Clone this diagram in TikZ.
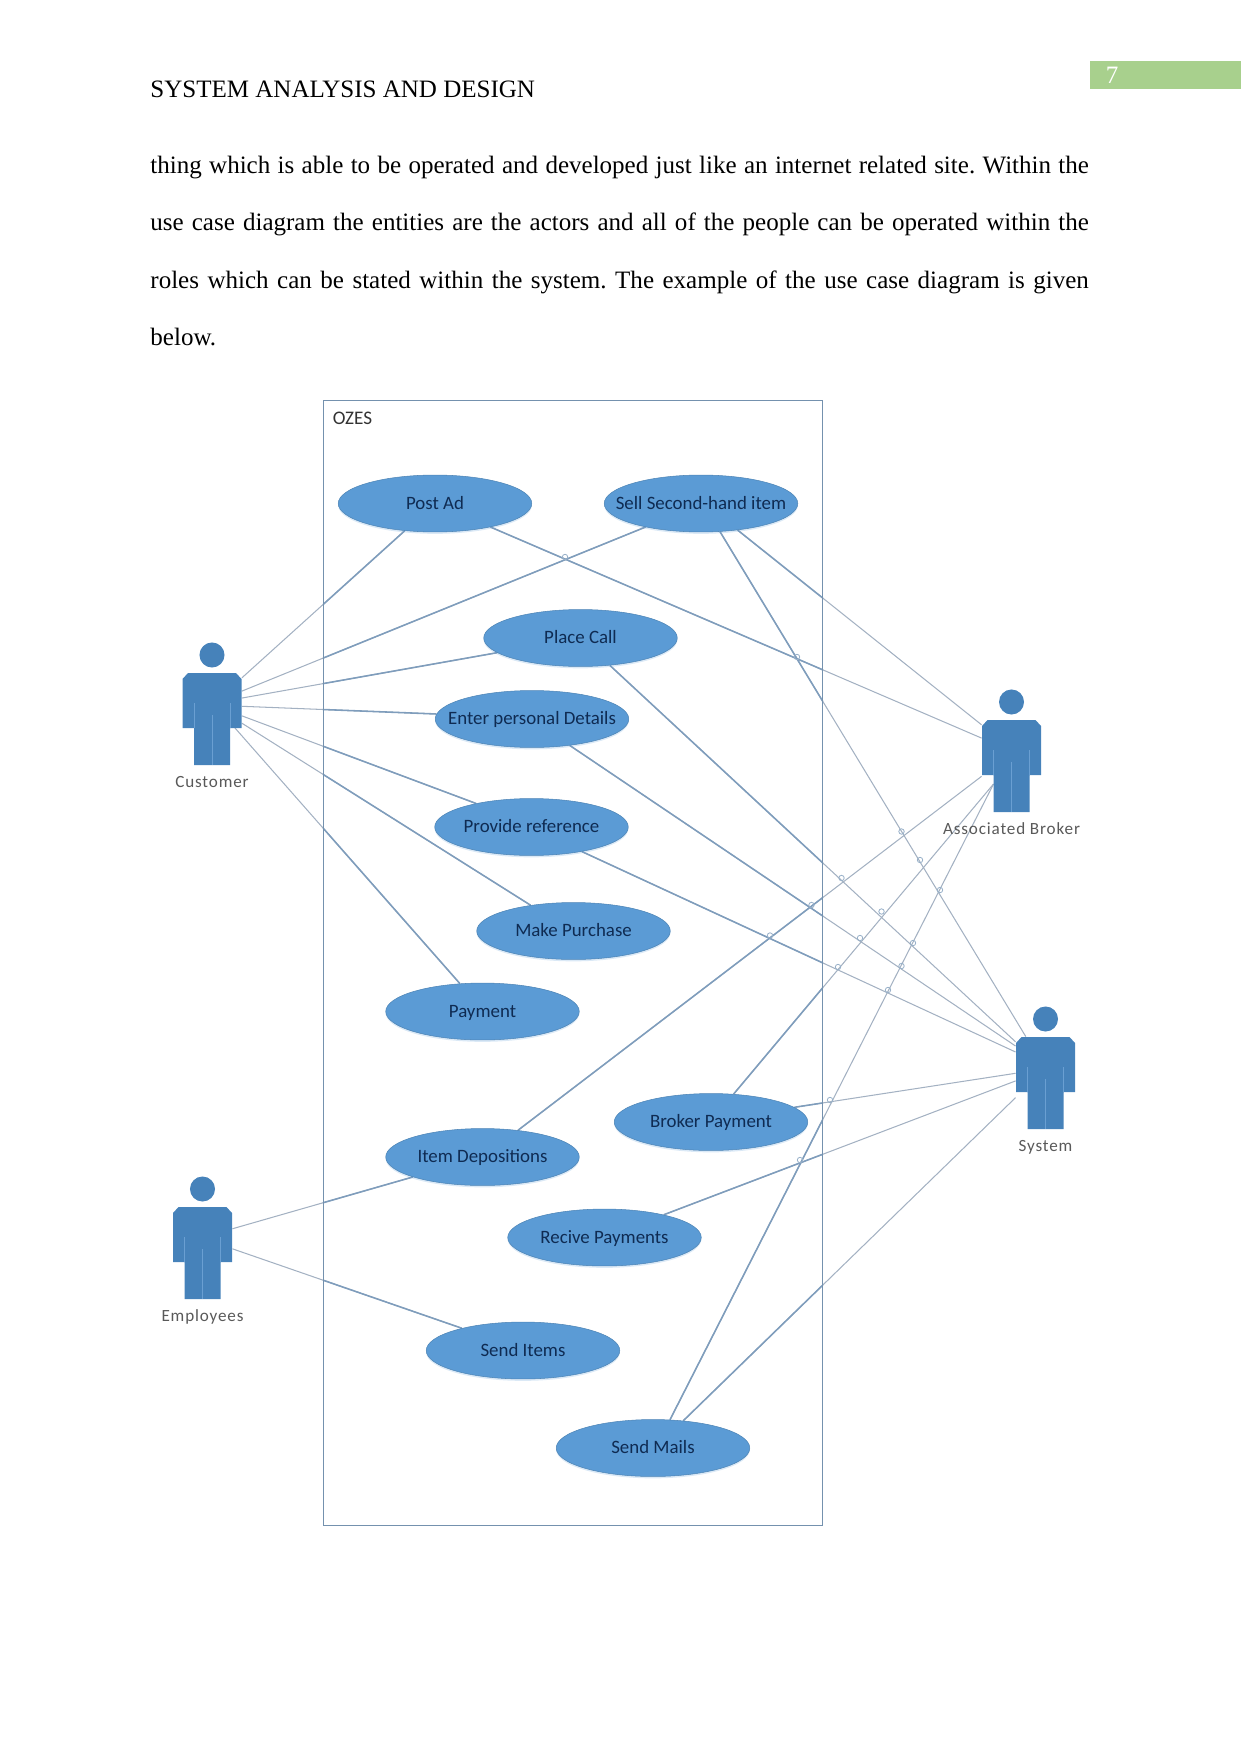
\documentclass[tikz,border=0pt]{standalone}
\usepackage{fontspec}
\setmainfont{Liberation Serif}
\newfontfamily\casefont{Carlito}
\newfontfamily\actorfont[LetterSpace=5]{Carlito}
\usepackage{xcolor}
\usetikzlibrary{positioning}
\usetikzlibrary{shapes.geometric}
\usetikzlibrary{backgrounds}
\usetikzlibrary{shadows}
\definecolor{casefill}{HTML}{5B9BD5}
\definecolor{casetext}{HTML}{0F2B52}
\definecolor{actorfill}{HTML}{4682BA}
\definecolor{actorline}{HTML}{6A9FD2}
\definecolor{linkout}{HTML}{A3B1C2}
\definecolor{linkin}{HTML}{7F9DBC}
\definecolor{frameline}{HTML}{7491AE}
\definecolor{pagegreen}{HTML}{A8D08D}
\tikzset{
  usecase/.style={ellipse, fill=casefill, draw=casefill!85!black, line width=.25pt, minimum width=92.8pt, minimum height=27.3pt, inner xsep=-22pt, inner ysep=0pt, text=casetext, text height=7pt, text depth=1.6pt, font=\casefont\fontsize{9.05}{11}\selectfont, drop shadow={fill=casefill, opacity=.22, shadow xshift=0pt, shadow yshift=-.9pt}},
  actorbox/.style={minimum width=28.3pt, minimum height=44.1pt, inner sep=0pt},
  actorname/.style={anchor=base, text=black!65, font=\actorfont\fontsize{8.2}{10}\selectfont},
  bodyline/.style={anchor=base west, inner sep=0pt, font=\fontsize{12}{14}\selectfont\frenchspacing},
  linkouter/.style={draw=linkout, line width=.5pt},
  linkinner/.style={draw=linkin, line width=.75pt},
  jumpmark/.style={draw=linkin!80!white, line width=.4pt},
}
\newcommand{\actorman}[4]{%
  \begin{scope}[shift={(#2,#3)}]
    \node[actorbox] (#1) at (0,0) {};
    \coordinate (#1-hand) at (23,9);
    \coordinate (#1-leg) at (-18,18);
    \fill[actorfill] (-29.5,-40) -- (-24,-46) -- (24,-46) -- (29.5,-40) -- (29.5,9) -- (18,9) -- (18,46) -- (-18,46) -- (-18,9) -- (-29.5,9) -- cycle;
    \draw[actorline, line width=.4pt] (-18,-16) -- (-18,9) (18,-16) -- (18,9) (0,-4) -- (0,46);
    \fill[actorfill] (0,-64) circle (6pt);
    \node[actorname] (#1-name) at (0,68) {#4};
  \end{scope}}
\def\caselinks{customer.54/postad.222, customer.43/sell.203, customer.35/placecall.190, customer.23/enter.177,
  customer.6/provide.157, customer.-8/purchase.149, customer-hand/payment.129,
  sell.-56/system.113, placecall.-43/system.126, enter.-35/system.129, provide.-26/system.134,
  brokerpay.10/system.162, recive.21/system.176, sendmails.42/system.206,
  postad.-23/broker.137, sell.-36/broker.126, itemdep.37/broker.199, brokerpay.51/broker-leg, sendmails.59/broker-leg,
  employees.39/itemdep.196, employees.8/senditems.160}

\begin{document}
\begin{tikzpicture}[x=0.4795pt, y=-0.4795pt]
  \useasboundingbox (0,0) rectangle (1241,1754);
  % page %
  \fill[pagegreen] (1090,61) rectangle (1241,89);
  \node[text=white, font=\fontsize{12}{14}\selectfont] (pageno) at (1112,75) {7};
  \node[bodyline] (heading) at (150,98) {SYSTEM ANALYSIS AND DESIGN};
  \node[bodyline] (line1) at (150,174) {\makebox[450pt][s]{thing which is able to be operated and developed just like an internet related site. Within the}};
  \node[bodyline] (line2) at (150,231) {\makebox[450pt][s]{use case diagram the entities are the actors and all of the people can be operated within the}};
  \node[bodyline] (line3) at (150,289) {\makebox[450pt][s]{roles which can be stated within the system. The example of the use case diagram is given}};
  \node[bodyline] (line4) at (150,346) {below.};
  % nodes %
  \node[draw=frameline, line width=.6pt, minimum width=239.3pt, minimum height=539.3pt] (ozes) at (573,963) {};
  \node[text=black!80, font=\casefont\fontsize{9.2}{11}\selectfont] (ozesname) at (352.5,418) {OZES};
  \node[usecase] (postad) at (435,503.5) {Post Ad};
  \node[usecase] (sell) at (701,503.5) {Sell Second-hand item};
  \node[usecase] (placecall) at (580.5,638) {Place Call};
  \node[usecase] (enter) at (532,719) {Enter personal Details};
  \node[usecase] (provide) at (531.5,827) {Provide reference};
  \node[usecase] (purchase) at (573.5,931) {Make Purchase};
  \node[usecase] (payment) at (482.5,1011.5) {Payment};
  \node[usecase] (brokerpay) at (711,1122) {Broker Payment};
  \node[usecase] (itemdep) at (482.5,1157) {Item Depositions};
  \node[usecase] (recive) at (604.5,1237.5) {Recive Payments};
  \node[usecase] (senditems) at (523,1350.5) {Send Items};
  \node[usecase] (sendmails) at (653,1448) {Send Mails};
  \actorman{customer}{212}{719}{Customer}
  \actorman{broker}{1011.5}{766}{Associated Broker}
  \actorman{system}{1045.5}{1083}{System}
  \actorman{employees}{202.5}{1253}{Employees}
  % edges %
  \begin{scope}[on background layer]
    \foreach \a/\b in \caselinks
      \draw[linkouter] (\a) -- (\b);
    \begin{scope}
      \clip (ozes.south west) rectangle (ozes.north east);
      \foreach \a/\b in \caselinks
        \draw[linkinner] (\a) -- (\b);
    \end{scope}
    \foreach \p in {(901.5,831.5),(920,860),(940,890),(841.5,878),(881.5,911.5),(913,943),(860,938),(901.5,966),(838,967),(888,990),(830,1100),(800,1160),(811.5,905),(770,935.5),(565,557),(797,657)}
      \draw[jumpmark] \p circle (1.3pt);
  \end{scope}
\end{tikzpicture}
\end{document}
